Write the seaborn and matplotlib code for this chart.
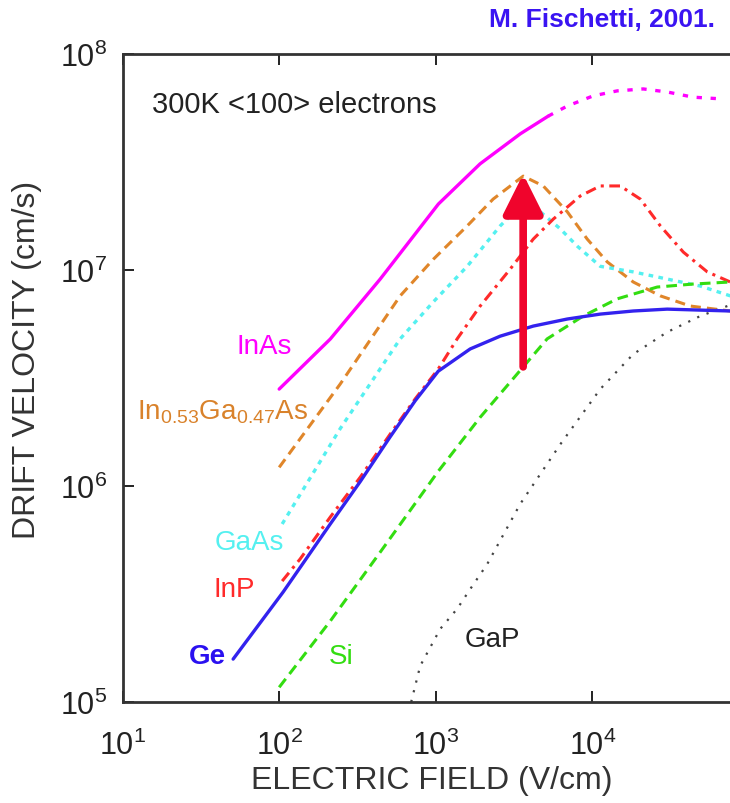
import numpy as np
import pandas as pd
import seaborn as sns
from matplotlib import pyplot as plt

# electron drift velocity vs field, 300K <100>
# field in V/cm, velocity in cm/s
inas_E = [100, 212, 442, 1040, 1920, 3470, 5240]
inas_v = [2.81e6, 4.79e6, 9.08e6, 2.02e7, 3.10e7, 4.27e7, 5.16e7]
inas_hi_E = [5240, 6920, 10140, 14450, 21180, 30130, 44160, 68710]
inas_hi_v = [5.16e7, 5.74e7, 6.40e7, 6.75e7, 6.89e7, 6.67e7, 6.31e7, 6.19e7]

ingaas_E = [100, 245, 593, 964, 1589, 2328, 3622, 4864, 6925, 9290, 12470, 18280, 27230, 42300, 76200]
ingaas_v = [1.22e6, 2.96e6, 7.59e6, 1.12e7, 1.60e7, 2.13e7, 2.72e7, 2.45e7, 1.86e7, 1.39e7, 1.09e7,
            8.80e6, 7.59e6, 6.81e6, 6.46e6]

gaas_E = [104.5, 245, 593, 964, 1589, 2582, 3467, 4656, 6252, 8017, 11250, 18280, 30130, 48980, 76200]
gaas_v = [6.67e5, 1.84e6, 4.80e6, 7.11e6, 1.04e7, 1.60e7, 1.98e7, 1.86e7, 1.55e7, 1.29e7, 1.04e7,
          9.80e6, 9.08e6, 8.43e6, 7.59e6]

inp_E = [104.5, 136, 212, 330, 512, 739, 1038, 1371, 1923, 2992, 4198, 5636, 8375, 11250, 15100,
         20280, 27230, 38190, 54330, 76200]
inp_v = [3.63e5, 4.59e5, 7.18e5, 1.10e6, 1.74e6, 2.53e6, 3.48e6, 4.80e6, 6.81e6, 1.01e7, 1.39e7,
         1.72e7, 2.20e7, 2.45e7, 2.45e7, 2.13e7, 1.60e7, 1.21e7, 9.80e6, 8.80e6]

ge_E = [50.8, 106, 212, 330, 512, 739, 1038, 1660, 2582, 4198, 6925, 11250, 18280, 30130, 76200]
ge_v = [1.58e5, 3.23e5, 6.67e5, 1.05e6, 1.69e6, 2.48e6, 3.40e6, 4.31e6, 4.94e6, 5.50e6, 5.93e6,
        6.25e6, 6.46e6, 6.59e6, 6.46e6]

si_E = [100, 212, 442, 1038, 1923, 3622, 5152, 8750, 14420, 26000, 44160, 76200]
si_v = [1.17e5, 2.37e5, 4.94e5, 1.17e6, 2.08e6, 3.56e6, 4.80e6, 6.12e6, 7.35e6, 8.34e6, 8.61e6, 8.80e6]

gap_E = [697, 796, 1069, 1371, 1660, 2133, 3467, 6252, 11250, 18280, 30130, 48980, 72950]
gap_v = [1.0e5, 1.47e5, 2.18e5, 2.70e5, 3.33e5, 4.35e5, 8.26e5, 1.56e6, 2.81e6, 4.08e6, 5.16e6,
         6.12e6, 6.81e6]

# vertical arrow at the InGaAs peak field
arrow_E = 3620
arrow_v = [3.56e6, 2.78e7]

sns.set_theme(style='ticks')
plt.rcParams['font.family'] = ['Liberation Sans', 'DejaVu Sans']
plt.rcParams['mathtext.fontset'] = 'custom'
plt.rcParams['mathtext.rm'] = 'Liberation Sans'
plt.rcParams['mathtext.it'] = 'Liberation Sans:italic'
plt.rcParams['mathtext.bf'] = 'Liberation Sans:bold'

fig = plt.figure(figsize=(7.3, 8.04), dpi=100)
ax = fig.add_axes([0.168, 0.1256, 0.832, 0.806])

curves = [
    (inas_E, inas_v, '#ff00ff', '-', 2.4),
    (inas_hi_E, inas_hi_v, '#ff00ff', (0, (1.6, 2.6)), 2.4),
    (ingaas_E, ingaas_v, '#e0862a', (0, (3.3, 2.0)), 2.2),
    (gaas_E, gaas_v, '#55f0f0', (0, (1.4, 1.6)), 2.4),
    (inp_E, inp_v, '#ff2a2a', (0, (3.5, 1.8, 1.0, 1.8)), 2.2),
    (si_E, si_v, '#33dd11', (0, (3.5, 2.0)), 2.2),
    (gap_E, gap_v, '#444444', (0, (1.0, 3.5)), 1.6),
    (ge_E, ge_v, '#3322ee', '-', 2.4),
]
for E, v, c, ls, lw in curves:
    df = pd.DataFrame({'E': E, 'v': v})
    sns.lineplot(data=df, x='E', y='v', ax=ax, color=c, linestyle=ls, lw=lw,
                 sort=False, estimator=None)

ax.annotate('', xy=(arrow_E, arrow_v[1]), xytext=(arrow_E, arrow_v[0]),
            arrowprops=dict(arrowstyle='-|>,head_length=2.4,head_width=1.2', lw=5.5,
                            color='#f0042c', mutation_scale=10, shrinkA=0, shrinkB=0))

ax.set_xscale('log')
ax.set_yscale('log')
ax.set_xlim(10, 10 ** 4.88)
ax.set_ylim(1e5, 1e8)
ax.minorticks_off()
ax.set_xticks([1e1, 1e2, 1e3, 1e4])
ax.set_yticks([1e5, 1e6, 1e7, 1e8])

for s in ['left', 'bottom', 'top']:
    ax.spines[s].set_linewidth(2)
    ax.spines[s].set_color('#333333')
ax.spines['right'].set_visible(False)
ax.tick_params(which='major', direction='in', length=8, width=1.4, color='#222222',
               top=True, right=False, labelsize=22, pad=11, labelcolor='#222222')
ax.tick_params(axis='x', pad=20)

ax.set_xlabel('ELECTRIC FIELD (V/cm)', fontsize=23, color='#333333')
ax.set_ylabel('DRIFT VELOCITY (cm/s)', fontsize=23, color='#333333')
ax.xaxis.set_label_coords(0.509, -0.097)
ax.yaxis.set_label_coords(-0.132, 0.53)

ax.text(0.0486, 0.923, '300K <100> electrons', transform=ax.transAxes, fontsize=21,
        ha='left', va='center', color='#222222')

labels = [
    ('InAs', 80.2, 4.45e6, '#ff00ff', 'center', 'normal'),
    (r'In$_{0.53}$Ga$_{0.47}$As', 12.4, 2.22e6, '#d9822b', 'left', 'normal'),
    ('GaAs', 64.3, 5.51e5, '#55f0f0', 'center', 'normal'),
    ('InP', 51.5, 3.33e5, '#ff2a2a', 'center', 'normal'),
    ('Ge', 34.7, 1.63e5, '#2a10f0', 'center', 'bold'),
    ('Si', 249, 1.63e5, '#33dd11', 'center', 'normal'),
    ('GaP', 2296, 1.96e5, '#222222', 'center', 'normal'),
]
for txt, x, y, c, ha, fw in labels:
    ax.text(x, y, txt, color=c, fontsize=20, ha=ha, va='center', fontweight=fw)

fig.text(0.979, 0.975, 'M. Fischetti, 2001.', ha='right', va='center', fontsize=19,
         fontweight='bold', color='#3a14f2')

fig.savefig('out.png', dpi=100)
